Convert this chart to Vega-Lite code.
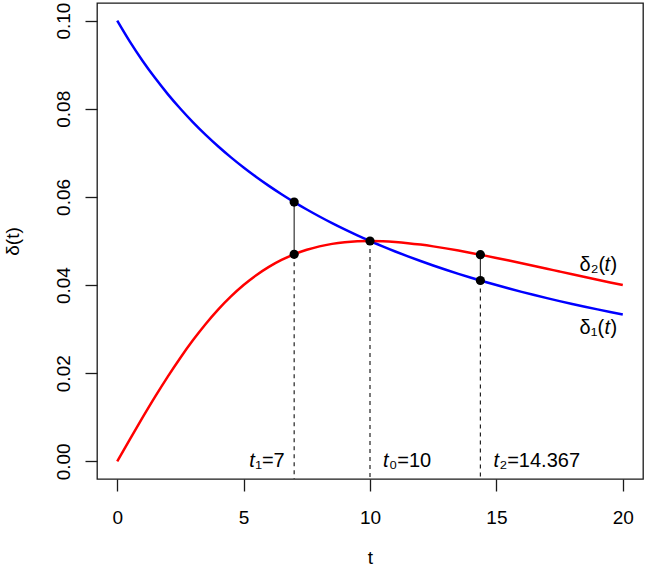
{
  "$schema": "https://vega.github.io/schema/vega-lite/v6.json",
  "width": 546,
  "height": 476,
  "autosize": {"type": "none"},
  "padding": {"left": 97, "top": 3, "right": 6, "bottom": 95},
  "background": "white",
  "config": {
    "font": "Liberation Sans",
    "view": {"stroke": "#1a1a1a", "strokeWidth": 1.3},
    "axis": {"grid": false, "domain": false, "tickSize": 12, "tickColor": "#1a1a1a", "tickWidth": 1.3, "labelFontSize": 19, "labelColor": "black", "titleFontSize": 19, "titleFontWeight": "normal", "titleColor": "black", "labelFlush": false, "labelOverlap": false, "labelFont": "Liberation Sans", "titleFont": "Liberation Sans"}
  },
  "datasets": {
    "curves": [
      {"t": 0, "value": 0.1, "series": "d1"}, {"t": 0.5, "value": 0.095238, "series": "d1"}, {"t": 1, "value": 0.090909, "series": "d1"}, {"t": 1.5, "value": 0.086957, "series": "d1"}, {"t": 2, "value": 0.083333, "series": "d1"}, {"t": 2.5, "value": 0.08, "series": "d1"}, {"t": 3, "value": 0.076923, "series": "d1"}, {"t": 3.5, "value": 0.074074, "series": "d1"}, {"t": 4, "value": 0.071429, "series": "d1"}, {"t": 4.5, "value": 0.068966, "series": "d1"}, {"t": 5, "value": 0.066667, "series": "d1"}, {"t": 5.5, "value": 0.064516, "series": "d1"}, {"t": 6, "value": 0.0625, "series": "d1"}, {"t": 6.5, "value": 0.060606, "series": "d1"}, {"t": 7, "value": 0.058824, "series": "d1"}, {"t": 7.5, "value": 0.057143, "series": "d1"}, {"t": 8, "value": 0.055556, "series": "d1"}, {"t": 8.5, "value": 0.054054, "series": "d1"}, {"t": 9, "value": 0.052632, "series": "d1"}, {"t": 9.5, "value": 0.051282, "series": "d1"}, {"t": 10, "value": 0.05, "series": "d1"}, {"t": 10.5, "value": 0.04878, "series": "d1"}, {"t": 11, "value": 0.047619, "series": "d1"}, {"t": 11.5, "value": 0.046512, "series": "d1"}, {"t": 12, "value": 0.045455, "series": "d1"}, {"t": 12.5, "value": 0.044444, "series": "d1"}, {"t": 13, "value": 0.043478, "series": "d1"}, {"t": 13.5, "value": 0.042553, "series": "d1"}, {"t": 14, "value": 0.041667, "series": "d1"}, {"t": 14.5, "value": 0.040816, "series": "d1"}, {"t": 15, "value": 0.04, "series": "d1"}, {"t": 15.5, "value": 0.039216, "series": "d1"}, {"t": 16, "value": 0.038462, "series": "d1"}, {"t": 16.5, "value": 0.037736, "series": "d1"}, {"t": 17, "value": 0.037037, "series": "d1"}, {"t": 17.5, "value": 0.036364, "series": "d1"}, {"t": 18, "value": 0.035714, "series": "d1"}, {"t": 18.5, "value": 0.035088, "series": "d1"}, {"t": 19, "value": 0.034483, "series": "d1"}, {"t": 19.5, "value": 0.033898, "series": "d1"}, {"t": 20, "value": 0.033333, "series": "d1"},
      {"t": 0, "value": 0, "series": "d2"}, {"t": 0.5, "value": 0.0049875, "series": "d2"}, {"t": 1, "value": 0.009901, "series": "d2"}, {"t": 1.5, "value": 0.01467, "series": "d2"}, {"t": 2, "value": 0.019231, "series": "d2"}, {"t": 2.5, "value": 0.023529, "series": "d2"}, {"t": 3, "value": 0.027523, "series": "d2"}, {"t": 3.5, "value": 0.03118, "series": "d2"}, {"t": 4, "value": 0.034483, "series": "d2"}, {"t": 4.5, "value": 0.037422, "series": "d2"}, {"t": 5, "value": 0.04, "series": "d2"}, {"t": 5.5, "value": 0.042226, "series": "d2"}, {"t": 6, "value": 0.044118, "series": "d2"}, {"t": 6.5, "value": 0.045694, "series": "d2"}, {"t": 7, "value": 0.04698, "series": "d2"}, {"t": 7.5, "value": 0.048, "series": "d2"}, {"t": 8, "value": 0.04878, "series": "d2"}, {"t": 8.5, "value": 0.049347, "series": "d2"}, {"t": 9, "value": 0.049724, "series": "d2"}, {"t": 9.5, "value": 0.049934, "series": "d2"}, {"t": 10, "value": 0.05, "series": "d2"}, {"t": 10.5, "value": 0.049941, "series": "d2"}, {"t": 11, "value": 0.049774, "series": "d2"}, {"t": 11.5, "value": 0.049516, "series": "d2"}, {"t": 12, "value": 0.04918, "series": "d2"}, {"t": 12.5, "value": 0.04878, "series": "d2"}, {"t": 13, "value": 0.048327, "series": "d2"}, {"t": 13.5, "value": 0.04783, "series": "d2"}, {"t": 14, "value": 0.047297, "series": "d2"}, {"t": 14.5, "value": 0.046737, "series": "d2"}, {"t": 15, "value": 0.046154, "series": "d2"}, {"t": 15.5, "value": 0.045555, "series": "d2"}, {"t": 16, "value": 0.044944, "series": "d2"}, {"t": 16.5, "value": 0.044325, "series": "d2"}, {"t": 17, "value": 0.043702, "series": "d2"}, {"t": 17.5, "value": 0.043077, "series": "d2"}, {"t": 18, "value": 0.042453, "series": "d2"}, {"t": 18.5, "value": 0.041832, "series": "d2"}, {"t": 19, "value": 0.041215, "series": "d2"}, {"t": 19.5, "value": 0.040604, "series": "d2"}, {"t": 20, "value": 0.04, "series": "d2"}
    ],
    "segs": [
      {"t": 7, "value": 0.04698, "value2": 0.058824},
      {"t": 14.367, "value": 0.041039, "value2": 0.046888}
    ],
    "dashes": [
      {"t": 7, "value": 0.04698},
      {"t": 10, "value": 0.05},
      {"t": 14.367, "value": 0.041039}
    ],
    "points": [
      {"t": 7, "value": 0.058824},
      {"t": 7, "value": 0.04698},
      {"t": 10, "value": 0.05},
      {"t": 14.367, "value": 0.046888},
      {"t": 14.367, "value": 0.041039}
    ],
    "leftLabels": [
      {"t": 7, "value": 0, "label": "₁=7"}
    ],
    "rightLabels": [
      {"t": 10, "value": 0, "label": "₀=10"},
      {"t": 14.367, "value": 0, "label": "₂=14.367"}
    ],
    "curveLabels": [
      {"t": 19, "value": 0.0446, "label": "δ₂("},
      {"t": 19, "value": 0.0303, "label": "δ₁("}
    ]
  },
  "encoding": {
    "x": {"field": "t", "type": "quantitative",
      "scale": {"domain": [-0.8, 20.8], "nice": false, "zero": false},
      "axis": {"values": [0, 5, 10, 15, 20], "title": "t", "labelBaseline": "middle", "labelPadding": 26, "titleY": 78, "titleBaseline": "middle"}},
    "y": {"field": "value", "type": "quantitative",
      "scale": {"domain": [-0.004, 0.104], "nice": false, "zero": false},
      "axis": {"values": [0, 0.02, 0.04, 0.06, 0.08, 0.1], "format": ".2f", "title": "δ(t)", "labelAngle": -90, "labelAlign": "center", "labelBaseline": "middle", "labelPadding": 22, "titleAngle": -90, "titleX": -85, "titleY": 238, "titleAlign": "center", "titleBaseline": "middle"}}
  },
  "layer": [
    {
      "data": {"name": "curves"},
      "mark": {"type": "line", "strokeWidth": 2.5, "interpolate": "monotone"},
      "encoding": {
        "color": {"field": "series", "type": "nominal", "scale": {"domain": ["d1", "d2"], "range": ["#0000FF", "#FF0000"]}, "legend": null}
      }
    },
    {
      "data": {"name": "segs"},
      "mark": {"type": "rule", "color": "#333333", "strokeWidth": 1.2},
      "encoding": {"y2": {"field": "value2"}}
    },
    {
      "data": {"name": "dashes"},
      "mark": {"type": "rule", "color": "#222222", "strokeWidth": 1.2, "strokeDash": [4, 4]},
      "encoding": {"y2": {"datum": -0.004}}
    },
    {
      "data": {"name": "points"},
      "mark": {"type": "point", "filled": true, "color": "black", "opacity": 1, "size": 85},
      "encoding": {}
    },
    {
      "data": {"name": "leftLabels"},
      "mark": {"type": "text", "text": "t", "fontStyle": "italic", "align": "left", "baseline": "middle", "dx": -45, "fontSize": 20, "color": "black", "font": "Liberation Sans"},
      "encoding": {}
    },
    {
      "data": {"name": "leftLabels"},
      "mark": {"type": "text", "align": "left", "baseline": "middle", "dx": -39, "fontSize": 20, "color": "black", "font": "Liberation Sans"},
      "encoding": {"text": {"field": "label"}}
    },
    {
      "data": {"name": "rightLabels"},
      "mark": {"type": "text", "text": "t", "fontStyle": "italic", "align": "left", "baseline": "middle", "dx": 13, "fontSize": 20, "color": "black", "font": "Liberation Sans"},
      "encoding": {}
    },
    {
      "data": {"name": "rightLabels"},
      "mark": {"type": "text", "align": "left", "baseline": "middle", "dx": 19, "fontSize": 20, "color": "black", "font": "Liberation Sans"},
      "encoding": {"text": {"field": "label"}}
    },
    {
      "data": {"name": "curveLabels"},
      "mark": {"type": "text", "align": "left", "baseline": "middle", "dx": -18, "fontSize": 20, "color": "black", "font": "Liberation Sans"},
      "encoding": {"text": {"field": "label"}}
    },
    {
      "data": {"name": "curveLabels"},
      "mark": {"type": "text", "text": "t", "fontStyle": "italic", "align": "left", "baseline": "middle", "dx": 7, "fontSize": 20, "color": "black", "font": "Liberation Sans"},
      "encoding": {}
    },
    {
      "data": {"name": "curveLabels"},
      "mark": {"type": "text", "text": ")", "align": "left", "baseline": "middle", "dx": 13, "fontSize": 20, "color": "black", "font": "Liberation Sans"},
      "encoding": {}
    }
  ]
}
